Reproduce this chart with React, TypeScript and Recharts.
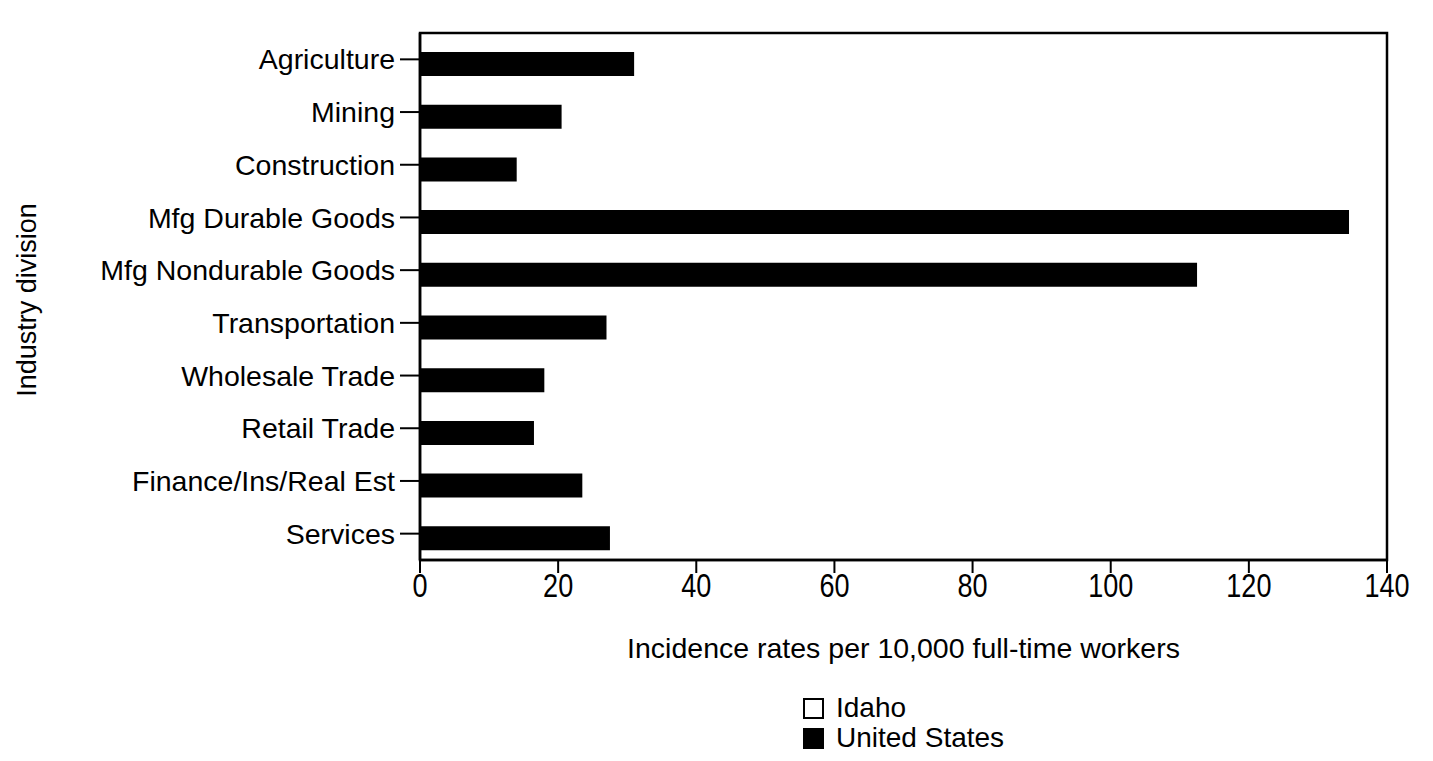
import React from 'react';
import {
  BarChart,
  Bar,
  XAxis,
  YAxis,
  Legend,
  ReferenceArea,
} from 'recharts';

// Industry divisions (top to bottom)
const categories = [
  'Agriculture',
  'Mining',
  'Construction',
  'Mfg Durable Goods',
  'Mfg Nondurable Goods',
  'Transportation',
  'Wholesale Trade',
  'Retail Trade',
  'Finance/Ins/Real Est',
  'Services',
];

// United States incidence rates per 10,000 full-time workers
const unitedStates = [31, 20.5, 14, 134.5, 112.5, 27, 18, 16.5, 23.5, 27.5];

// Idaho bars are drawn white in the original and are not visible; no values readable
const idaho: (number | null)[] = [null, null, null, null, null, null, null, null, null, null];

const xTicks = [0, 20, 40, 60, 80, 100, 120, 140];

const seriesNames = ['Idaho', 'United States'];

const data = categories.map((name, i) => ({
  name,
  idaho: idaho[i],
  us: unitedStates[i],
}));

const FONT = '"Liberation Sans", Arial, Helvetica, sans-serif';

const renderLegend = () => (
  <div style={{ fontFamily: FONT, fontSize: 28, color: '#000', lineHeight: '30px' }}>
    {seriesNames.map((n, i) => (
      <div key={n} style={{ display: 'flex', alignItems: 'center', height: 30 }}>
        <span
          style={{
            display: 'inline-block',
            width: 17,
            height: 17,
            border: '2px solid #000',
            background: i === 0 ? '#fff' : '#000',
            marginRight: 12,
          }}
        />
        <span>{n}</span>
      </div>
    ))}
  </div>
);

const YTitle = () => (
  <text
    x={36}
    y={300}
    transform="rotate(-90 36 300)"
    textAnchor="middle"
    fontFamily={FONT}
    fontSize={27}
    fill="#000"
  >
    Industry division
  </text>
);

// condensed numeric tick labels, as in the scanned original
const XTick = (props: any) => {
  const { x, y, payload } = props;
  return (
    <g transform={`translate(${x},${y})`}>
      <text
        transform="scale(0.82,1)"
        x={0}
        y={0}
        dy="0.72em"
        textAnchor="middle"
        fontFamily={FONT}
        fontSize={33}
        fill="#000"
      >
        {payload.value}
      </text>
    </g>
  );
};

export default function App() {
  return (
    <div style={{ position: 'absolute', left: 0, top: 0, background: '#fff' }}>
      <BarChart
        width={1433}
        height={761}
        data={data}
        layout="vertical"
        margin={{ top: 33, right: 46, bottom: 101, left: 0 }}
        barGap={-14}
        barCategoryGap={3}
        style={{ fontFamily: FONT }}
      >
        <XAxis
          type="number"
          domain={[0, 140]}
          ticks={xTicks}
          allowDataOverflow
          tickLine={{ stroke: '#000', strokeWidth: 2 }}
          axisLine={{ stroke: '#000', strokeWidth: 2.5 }}
          tickSize={13}
          tickMargin={0}
          height={100}
          tick={<XTick />}
          label={{
            value: 'Incidence rates per 10,000 full-time workers',
            position: 'insideBottom',
            offset: 2,
            fill: '#000',
            fontSize: 28.5,
            fontFamily: FONT,
          }}
        />
        <YAxis
          type="category"
          dataKey="name"
          width={420}
          tickLine={{ stroke: '#000', strokeWidth: 2 }}
          axisLine={{ stroke: '#000', strokeWidth: 2.5 }}
          tickSize={20}
          tickMargin={5}
          interval={0}
          tick={{ fill: '#000', fontSize: 28.5, fontFamily: FONT }}
          label={{ content: () => <YTitle /> }}
        />
        <ReferenceArea
          x1={0}
          x2={140}
          fill="none"
          fillOpacity={0}
          stroke="#000"
          strokeWidth={2.5}
          ifOverflow="extendDomain"
        />
        <Bar
          dataKey="idaho"
          name="Idaho"
          fill="#fff"
          barSize={24}
          isAnimationActive={false}
        />
        <Bar
          dataKey="us"
          name="United States"
          fill="#000"
          barSize={24}
          isAnimationActive={false}
        />
        <Legend
          layout="horizontal"
          verticalAlign="middle"
          align="center"
          content={renderLegend}
          wrapperStyle={{ left: 803, top: 693, width: 300, height: 62 }}
        />
      </BarChart>
    </div>
  );
}
